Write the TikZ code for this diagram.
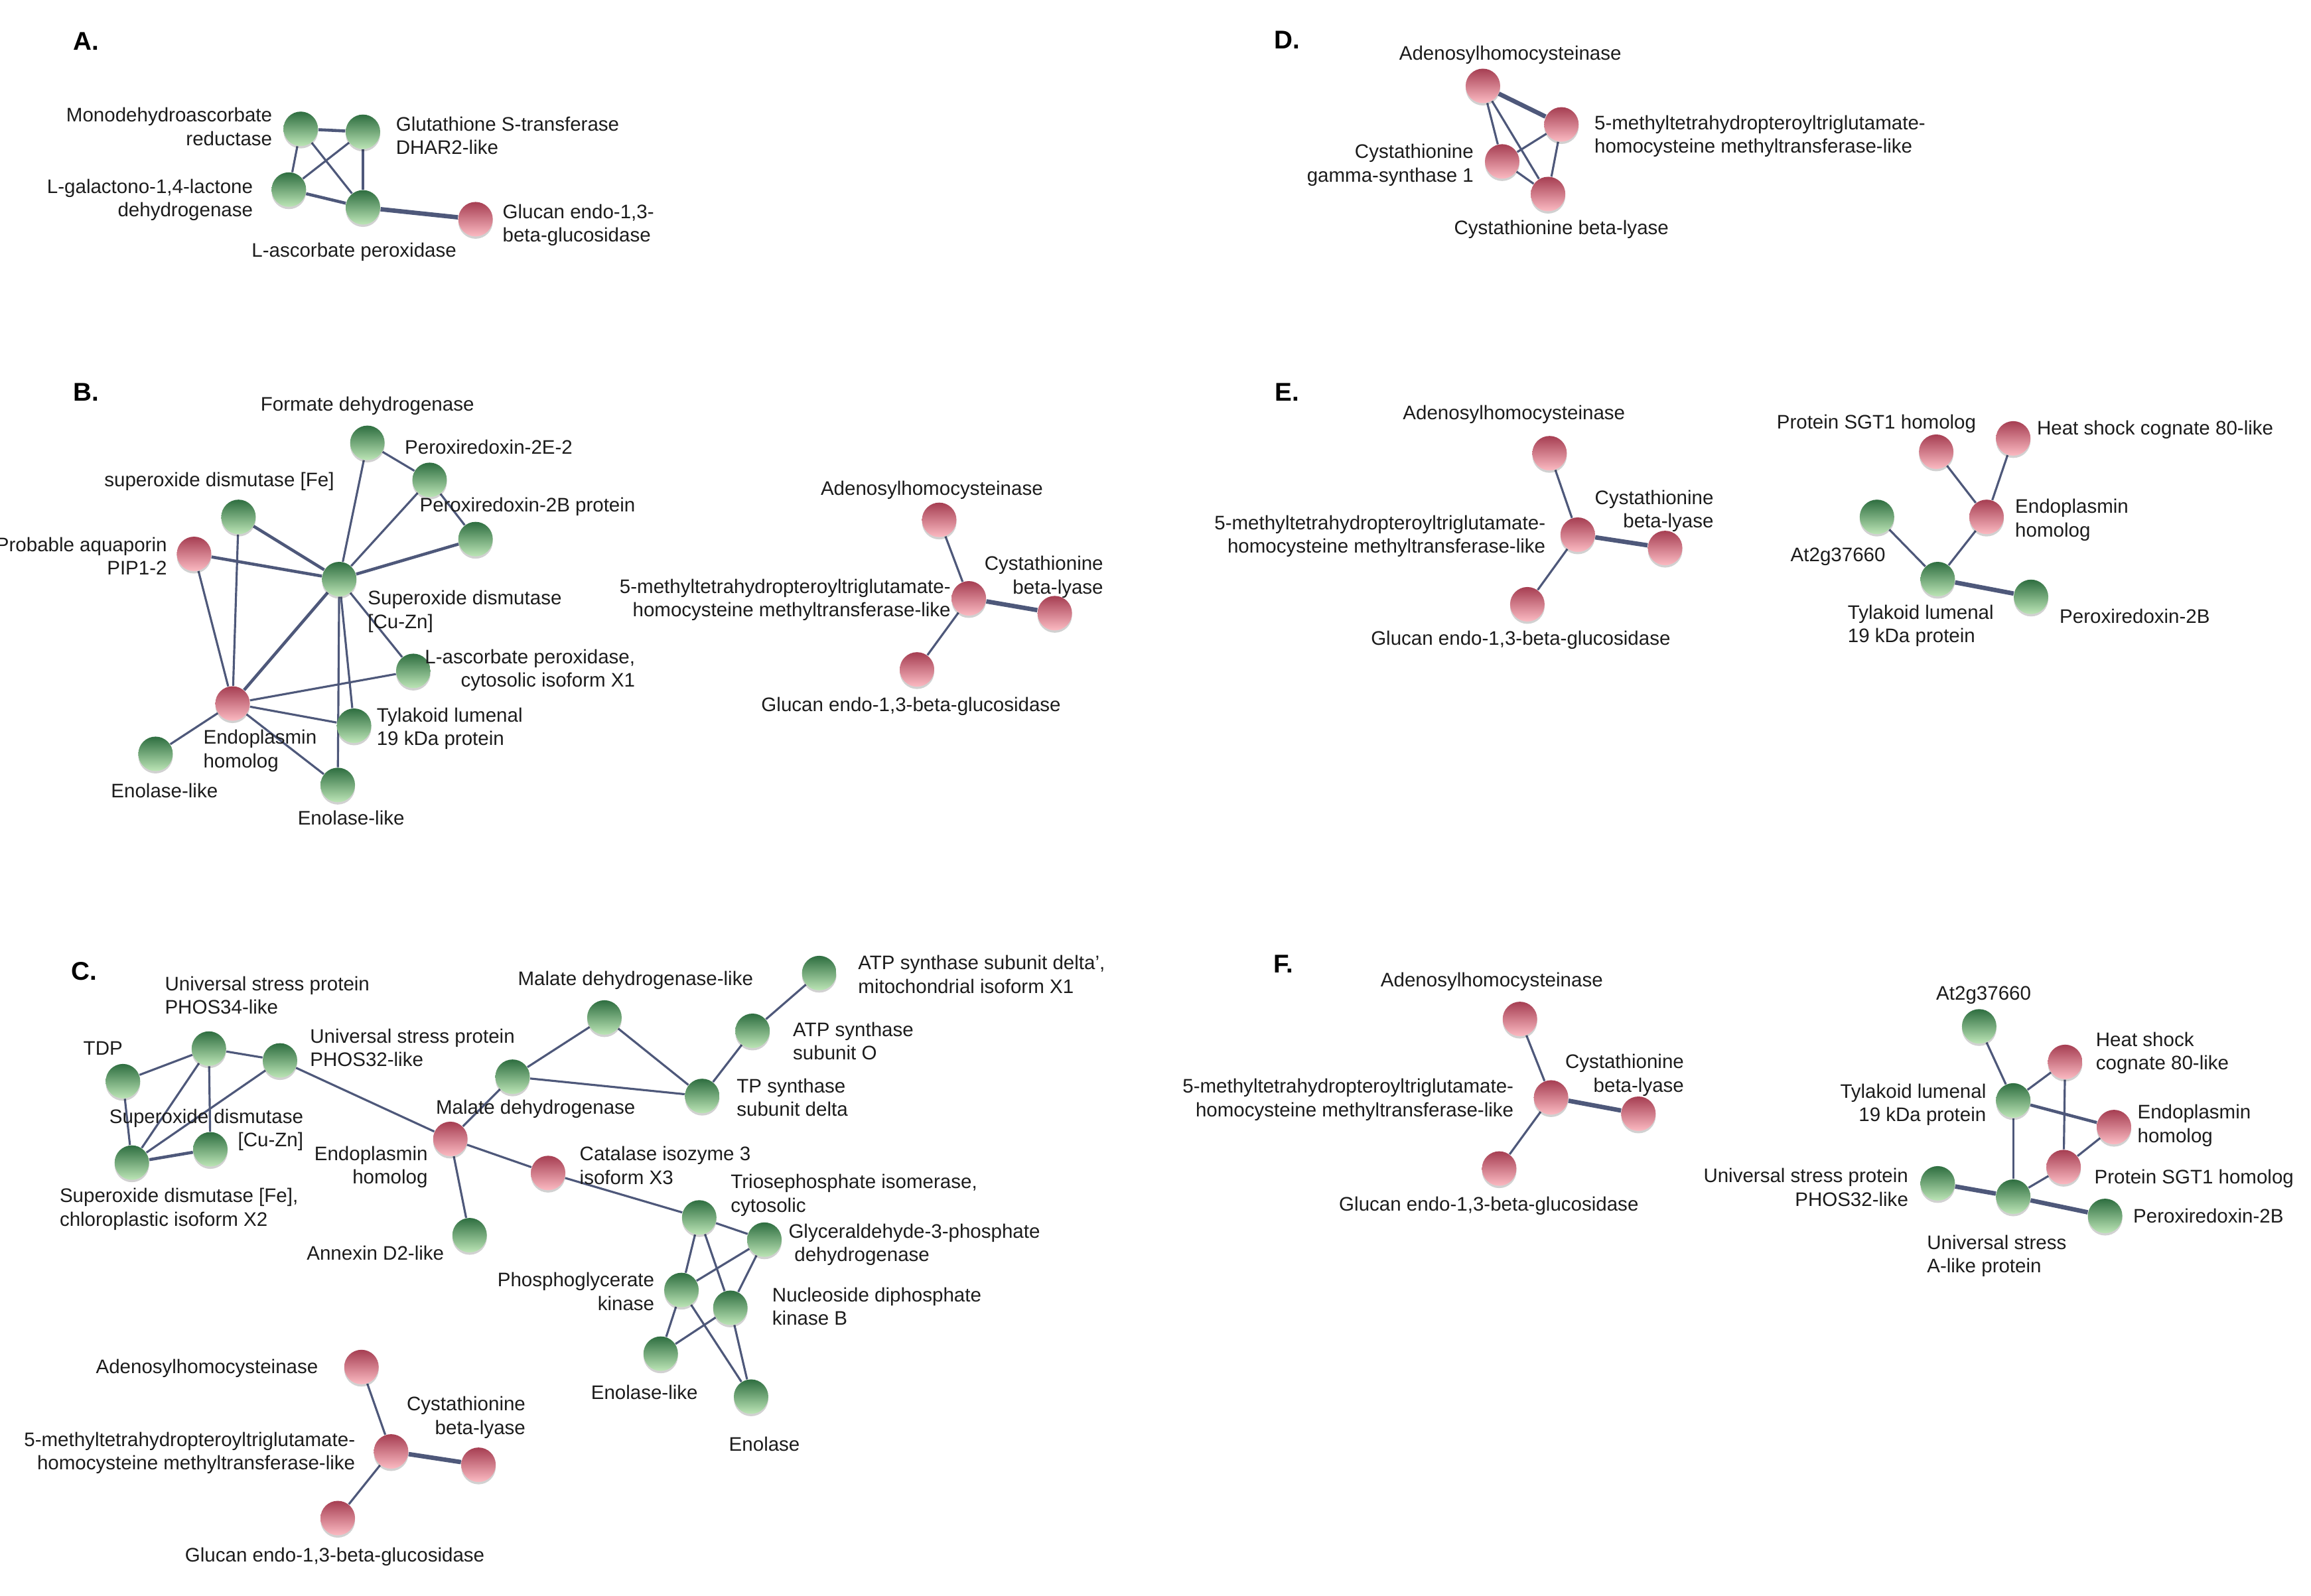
\documentclass[tikz,border=0pt]{standalone}
\usepackage{fontspec}
\setmainfont{Liberation Sans}
\usetikzlibrary{backgrounds,shadows}
\definecolor{gtop}{RGB}{46,110,64}
\definecolor{gbot}{RGB}{188,229,182}
\definecolor{rtop}{RGB}{166,62,82}
\definecolor{rbot}{RGB}{251,186,194}
\definecolor{edgec}{RGB}{78,88,122}
\definecolor{txt}{RGB}{28,28,28}
\begin{document}
\begin{tikzpicture}[x=0.2233mm,y=-0.2233mm,
 gn/.style={circle,minimum size=5.2mm,inner sep=0pt,draw=none,top color=gtop,bottom color=gbot,
   drop shadow={shadow xshift=0pt,shadow yshift=-0.35mm,opacity=0.18,fill=black}},
 rn/.style={circle,minimum size=5.2mm,inner sep=0pt,draw=none,top color=rtop,bottom color=rbot,
   drop shadow={shadow xshift=0pt,shadow yshift=-0.35mm,opacity=0.18,fill=black}},
 lb/.style={inner sep=0pt,font=\fontsize{8.4}{10.1}\selectfont,text=txt},
 le/.style={lb,anchor=east,align=right},
 lw/.style={lb,anchor=west,align=left},
 lc/.style={lb,anchor=center,align=center},
 pl/.style={inner sep=0pt,font=\bfseries\fontsize{11}{13}\selectfont,text=black},
 lnk/.style={draw=edgec,line width=0.9pt},
 mid/.style={line width=1.3pt},
 thk/.style={line width=1.9pt}]
\useasboundingbox (0,0) rectangle (1560,1077.5);

% ---------------- Panel A ----------------
\node[pl] (pA) at (58,28) {A.};
\node[gn] (a1) at (203,87) {};
\node[gn] (a2) at (245,89) {};
\node[gn] (a3) at (195,128) {};
\node[gn] (a4) at (245,140) {};
\node[rn] (a5) at (321,148) {};
\node[le] (ta1) at (184,85.5) {Monodehydroascorbate\\reductase};
\node[lw] (ta2) at (267,91.5) {Glutathione S-transferase\\DHAR2-like};
\node[le] (ta3) at (171,135) {L-galactono-1,4-lactone\\dehydrogenase};
\node[lc] (ta4) at (239,170) {L-ascorbate peroxidase};
\node[lw] (ta5) at (339,152) {Glucan endo-1,3-\\beta-glucosidase};

% ---------------- Panel B ----------------
\node[pl] (pB) at (58,265) {B.};
\node[gn] (b1) at (248,299) {};
\node[gn] (b2) at (290,324) {};
\node[gn] (b3) at (161,349) {};
\node[rn] (b4) at (131,374) {};
\node[gn] (b5) at (321,364) {};
\node[gn] (b6) at (229,391) {};
\node[gn] (b7) at (279,453) {};
\node[rn] (b8) at (157,475) {};
\node[gn] (b9) at (239,490) {};
\node[gn] (b10) at (105,509) {};
\node[gn] (b11) at (228,530) {};
\node[lc] (tb1) at (248,274) {Formate dehydrogenase};
\node[lw] (tb2) at (273,302) {Peroxiredoxin-2E-2};
\node[lc] (tb3) at (148,325) {superoxide dismutase [Fe]};
\node[lw] (tb5) at (283,342) {Peroxiredoxin-2B protein};
\node[le] (tb4) at (113,375.5) {Probable aquaporin\\PIP1-2};
\node[lw] (tb6) at (248,413) {Superoxide dismutase\\{[Cu-Zn]}};
\node[le] (tb7) at (429,452.5) {L-ascorbate peroxidase,\\cytosolic isoform X1};
\node[lw] (tb9) at (254,492) {Tylakoid lumenal\\19 kDa protein};
\node[lw] (tb8) at (137,507) {Endoplasmin\\homolog};
\node[lc] (tb10) at (111,534) {Enolase-like};
\node[lc] (tb11) at (237,552) {Enolase-like};

% B right
\node[rn] (br1) at (634,351) {};
\node[rn] (br2) at (654,404) {};
\node[rn] (br3) at (712,414) {};
\node[rn] (br4) at (619,452) {};
\node[lc] (tbr1) at (629,331) {Adenosylhomocysteinase};
\node[le] (tbr2) at (642,405) {5-methyltetrahydropteroyltriglutamate-\\homocysteine methyltransferase-like};
\node[le] (tbr3) at (745,389.5) {Cystathionine\\beta-lyase};
\node[lc] (tbr4) at (615,477) {Glucan endo-1,3-beta-glucosidase};

% ---------------- Panel C ----------------
\node[pl] (pC) at (57,656) {C.};
\node[gn] (c1) at (141,708) {};
\node[gn] (c2) at (83,730) {};
\node[gn] (c3) at (189,716) {};
\node[gn] (c4) at (142,776) {};
\node[gn] (c5) at (89,785) {};
\node[rn] (c6) at (304,769) {};
\node[rn] (c7) at (370,792) {};
\node[gn] (c8) at (317,834) {};
\node[gn] (c9) at (346,727) {};
\node[gn] (c10) at (408,687) {};
\node[gn] (c11) at (553,657) {};
\node[gn] (c12) at (508,696) {};
\node[gn] (c13) at (474,740) {};
\node[gn] (c14) at (472,822) {};
\node[gn] (c15) at (516,837) {};
\node[gn] (c16) at (460,871) {};
\node[gn] (c17) at (493,883) {};
\node[gn] (c18) at (446,914) {};
\node[gn] (c19) at (507,943) {};
\node[lw] (tc1) at (111,672) {Universal stress protein\\PHOS34-like};
\node[lw] (tc2) at (56,708) {TDP};
\node[lw] (tc3) at (209,707.5) {Universal stress protein\\PHOS32-like};
\node[le] (tc4) at (205,763) {Superoxide dismutase\\{[Cu-Zn]}};
\node[lw] (tc5) at (40,816.5) {Superoxide dismutase [Fe],\\chloroplastic isoform X2};
\node[le] (tc6) at (289,788) {Endoplasmin\\homolog};
\node[lw] (tc9) at (294,749) {Malate dehydrogenase};
\node[lw] (tc7) at (391,787) {Catalase isozyme 3\\isoform X3};
\node[le] (tc8) at (300,846) {Annexin D2-like};
\node[le] (tc16) at (442,872) {Phosphoglycerate\\kinase};
\node[lc] (tc10) at (429,662) {Malate dehydrogenase-like};
\node[lw] (tc11) at (579,658) {ATP synthase subunit delta',\\mitochondrial isoform X1};
\node[lw] (tc12) at (535,703) {ATP synthase\\subunit O};
\node[lw] (tc13) at (497,741) {TP synthase\\subunit delta};
\node[lw] (tc14) at (493,807) {Triosephosphate isomerase,\\cytosolic};
\node[lw] (tc15) at (532,840.5) {Glyceraldehyde-3-phosphate\\\hspace*{0.3em}dehydrogenase};
\node[lw] (tc17) at (521,882) {Nucleoside diphosphate\\kinase B};
\node[lc] (tc18) at (435,940) {Enolase-like};
\node[lc] (tc19) at (516,975) {Enolase};

% C bottom
\node[rn] (cb1) at (244,923) {};
\node[rn] (cb2) at (264,980) {};
\node[rn] (cb3) at (323,989) {};
\node[rn] (cb4) at (228,1025) {};
\node[le] (tcb1) at (215,924) {Adenosylhomocysteinase};
\node[le] (tcb2) at (240,981) {5-methyltetrahydropteroyltriglutamate-\\homocysteine methyltransferase-like};
\node[le] (tcb3) at (355,957) {Cystathionine\\beta-lyase};
\node[lc] (tcb4) at (226,1051) {Glucan endo-1,3-beta-glucosidase};

% ---------------- Panel D ----------------
\node[pl] (pD) at (869,27) {D.};
\node[rn] (d1) at (1001,58) {};
\node[rn] (d2) at (1054,84) {};
\node[rn] (d3) at (1014,109) {};
\node[rn] (d4) at (1045,131) {};
\node[lc] (td1) at (1019.5,37) {Adenosylhomocysteinase};
\node[lw] (td2) at (1076,92) {5-methyltetrahydropteroyltriglutamate-\\homocysteine methyltransferase-like};
\node[le] (td3) at (995,111.5) {Cystathionine\\gamma-synthase 1};
\node[lc] (td4) at (1054,155) {Cystathionine beta-lyase};

% ---------------- Panel E ----------------
\node[pl] (pE) at (869,265) {E.};
\node[rn] (e1) at (1046,306) {};
\node[rn] (e2) at (1065,361) {};
\node[rn] (e3) at (1124,370) {};
\node[rn] (e4) at (1031,408) {};
\node[rn] (e5) at (1307,305) {};
\node[rn] (e6) at (1359,296) {};
\node[rn] (e7) at (1341,349) {};
\node[gn] (e8) at (1267,349) {};
\node[gn] (e9) at (1308,391) {};
\node[gn] (e10) at (1371,403) {};
\node[lc] (te1) at (1022,280) {Adenosylhomocysteinase};
\node[le] (te3) at (1157,345) {Cystathionine\\beta-lyase};
\node[le] (te2) at (1043.5,362) {5-methyltetrahydropteroyltriglutamate-\\homocysteine methyltransferase-like};
\node[lc] (te4) at (1026.5,432) {Glucan endo-1,3-beta-glucosidase};
\node[lc] (te5) at (1266.6,286) {Protein SGT1 homolog};
\node[lw] (te6) at (1374.7,290) {Heat shock cognate 80-like};
\node[lw] (te7) at (1360,351) {Endoplasmin\\homolog};
\node[le] (te8) at (1273,376) {At2g37660};
\node[lw] (te9) at (1247,422.5) {Tylakoid lumenal\\19 kDa protein};
\node[lw] (te10) at (1390,416) {Peroxiredoxin-2B};

% ---------------- Panel F ----------------
\node[pl] (pF) at (866.5,651) {F.};
\node[rn] (f1) at (1026,688) {};
\node[rn] (f2) at (1047,741) {};
\node[rn] (f3) at (1106,752) {};
\node[rn] (f4) at (1012,789) {};
\node[gn] (f5) at (1336,693) {};
\node[rn] (f6) at (1394,717) {};
\node[gn] (f7) at (1359,743) {};
\node[rn] (f8) at (1427,761) {};
\node[rn] (f9) at (1393,788) {};
\node[gn] (f10) at (1308,799) {};
\node[gn] (f11) at (1359,808) {};
\node[gn] (f12) at (1421,821) {};
\node[lc] (tf1) at (1007,663) {Adenosylhomocysteinase};
\node[le] (tf2) at (1022,742.5) {5-methyltetrahydropteroyltriglutamate-\\homocysteine methyltransferase-like};
\node[le] (tf3) at (1137,726) {Cystathionine\\beta-lyase};
\node[lc] (tf4) at (1005,814) {Glucan endo-1,3-beta-glucosidase};
\node[lc] (tf5) at (1339,672) {At2g37660};
\node[lw] (tf6) at (1414.5,711) {Heat shock\\cognate 80-like};
\node[le] (tf7) at (1341,746) {Tylakoid lumenal\\19 kDa protein};
\node[lw] (tf8) at (1442.6,760) {Endoplasmin\\homolog};
\node[lw] (tf9) at (1413.5,796) {Protein SGT1 homolog};
\node[le] (tf10) at (1288.4,801.7) {Universal stress protein\\PHOS32-like};
\node[lw] (tf12) at (1439.7,821) {Peroxiredoxin-2B};
\node[lw] (tf11) at (1300.5,848) {Universal stress\\A-like protein};

% ---------------- connectors ----------------
\begin{scope}[on background layer]
\fill[white] (0,0) rectangle (1560,1077.5);
% A
\draw[lnk,mid] (a1) -- (a2);
\draw[lnk] (a1) -- (a3);
\draw[lnk] (a1) -- (a4);
\draw[lnk] (a2) -- (a3);
\draw[lnk] (a2) -- (a4);
\draw[lnk,mid] (a3) -- (a4);
\draw[lnk,thk] (a4) -- (a5);
% B
\draw[lnk] (b1) -- (b2);
\draw[lnk] (b1) -- (b6);
\draw[lnk] (b2) -- (b5);
\draw[lnk] (b2) -- (b6);
\draw[lnk,mid] (b5) -- (b6);
\draw[lnk,mid] (b3) -- (b6);
\draw[lnk] (b3) -- (b8);
\draw[lnk,mid] (b4) -- (b6);
\draw[lnk] (b4) -- (b8);
\draw[lnk,mid] (b6) -- (b8);
\draw[lnk] (b6) -- (b7);
\draw[lnk] (b6) -- (b9);
\draw[lnk] (b6) -- (b11);
\draw[lnk] (b8) -- (b7);
\draw[lnk] (b8) -- (b9);
\draw[lnk] (b8) -- (b10);
\draw[lnk] (b8) -- (b11);
\draw[lnk] (br1) -- (br2);
\draw[lnk,thk] (br2) -- (br3);
\draw[lnk] (br2) -- (br4);
% C
\draw[lnk] (c2) -- (c1);
\draw[lnk] (c2) -- (c5);
\draw[lnk] (c1) -- (c5);
\draw[lnk] (c1) -- (c4);
\draw[lnk] (c1) -- (c3);
\draw[lnk] (c3) -- (c5);
\draw[lnk,mid] (c4) -- (c5);
\draw[lnk] (c3) -- (c6);
\draw[lnk] (c6) -- (c9);
\draw[lnk] (c9) -- (c10);
\draw[lnk] (c10) -- (c13);
\draw[lnk] (c9) -- (c13);
\draw[lnk] (c11) -- (c12);
\draw[lnk] (c12) -- (c13);
\draw[lnk] (c6) -- (c7);
\draw[lnk] (c6) -- (c8);
\draw[lnk] (c7) -- (c14);
\draw[lnk] (c14) -- (c15);
\draw[lnk] (c14) -- (c16);
\draw[lnk] (c14) -- (c17);
\draw[lnk] (c15) -- (c16);
\draw[lnk] (c15) -- (c17);
\draw[lnk] (c16) -- (c18);
\draw[lnk] (c16) -- (c19);
\draw[lnk] (c17) -- (c18);
\draw[lnk] (c17) -- (c19);
\draw[lnk] (cb1) -- (cb2);
\draw[lnk,thk] (cb2) -- (cb3);
\draw[lnk] (cb2) -- (cb4);
% D
\draw[lnk,thk] (d1) -- (d2);
\draw[lnk] (d1) -- (d3);
\draw[lnk] (d1) -- (d4);
\draw[lnk] (d2) -- (d3);
\draw[lnk] (d2) -- (d4);
\draw[lnk] (d3) -- (d4);
% E
\draw[lnk] (e1) -- (e2);
\draw[lnk,thk] (e2) -- (e3);
\draw[lnk] (e2) -- (e4);
\draw[lnk] (e5) -- (e7);
\draw[lnk] (e6) -- (e7);
\draw[lnk] (e7) -- (e9);
\draw[lnk] (e8) -- (e9);
\draw[lnk,thk] (e9) -- (e10);
% F
\draw[lnk] (f1) -- (f2);
\draw[lnk,thk] (f2) -- (f3);
\draw[lnk] (f2) -- (f4);
\draw[lnk] (f5) -- (f7);
\draw[lnk] (f7) -- (f6);
\draw[lnk,mid] (f7) -- (f8);
\draw[lnk] (f7) -- (f11);
\draw[lnk] (f6) -- (f9);
\draw[lnk] (f8) -- (f9);
\draw[lnk] (f9) -- (f11);
\draw[lnk,thk] (f10) -- (f11);
\draw[lnk,thk] (f11) -- (f12);
\end{scope}
\end{tikzpicture}
\end{document}
